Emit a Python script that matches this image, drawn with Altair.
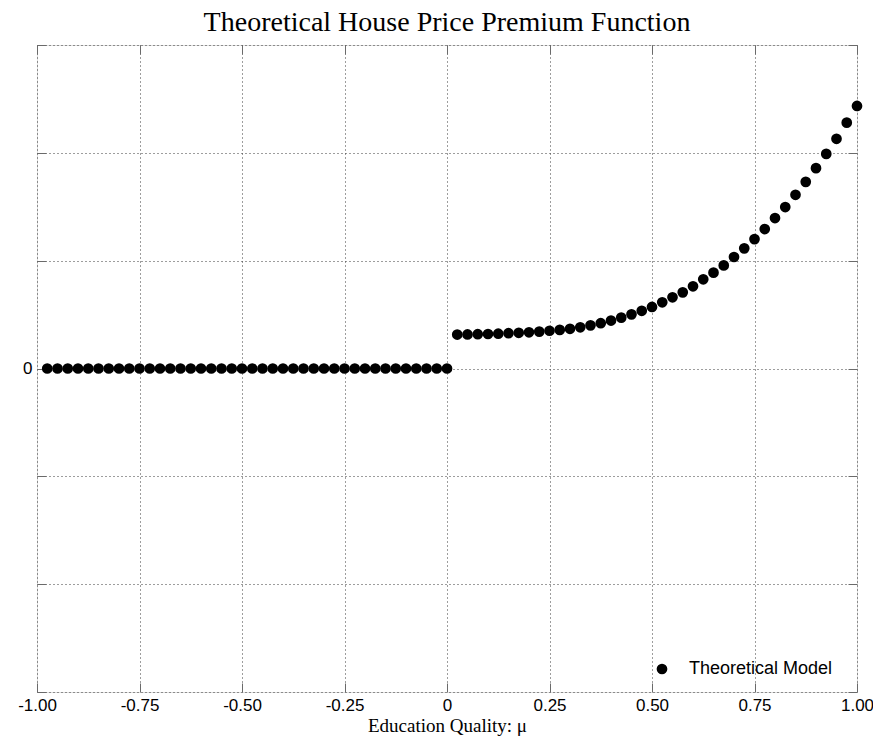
import altair as alt
import pandas as pd

# ---- data ----
x_left = [-0.975, -0.95, -0.925, -0.9, -0.875, -0.85, -0.825, -0.8, -0.775, -0.75,
          -0.725, -0.7, -0.675, -0.65, -0.625, -0.6, -0.575, -0.55, -0.525, -0.5,
          -0.475, -0.45, -0.425, -0.4, -0.375, -0.35, -0.325, -0.3, -0.275, -0.25,
          -0.225, -0.2, -0.175, -0.15, -0.125, -0.1, -0.075, -0.05, -0.025, 0.0]
y_left = [0.0, 0.0, 0.0, 0.0, 0.0, 0.0, 0.0, 0.0, 0.0, 0.0,
          0.0, 0.0, 0.0, 0.0, 0.0, 0.0, 0.0, 0.0, 0.0, 0.0,
          0.0, 0.0, 0.0, 0.0, 0.0, 0.0, 0.0, 0.0, 0.0, 0.0,
          0.0, 0.0, 0.0, 0.0, 0.0, 0.0, 0.0, 0.0, 0.0, 0.0]
x_right = [0.025, 0.05, 0.075, 0.1, 0.125, 0.15, 0.175, 0.2, 0.225, 0.25,
           0.275, 0.3, 0.325, 0.35, 0.375, 0.4, 0.425, 0.45, 0.475, 0.5,
           0.525, 0.55, 0.575, 0.6, 0.625, 0.65, 0.675, 0.7, 0.725, 0.75,
           0.775, 0.8, 0.825, 0.85, 0.875, 0.9, 0.925, 0.95, 0.975, 1.0]
y_right = [0.315, 0.316, 0.318, 0.320, 0.323, 0.327, 0.331, 0.336, 0.342, 0.350,
           0.358, 0.368, 0.382, 0.400, 0.420, 0.445, 0.472, 0.502, 0.535, 0.571,
           0.614, 0.660, 0.706, 0.762, 0.827, 0.889, 0.956, 1.034, 1.114, 1.200,
           1.293, 1.395, 1.497, 1.611, 1.731, 1.858, 1.990, 2.130, 2.280, 2.435]
series_name = "Theoretical Model"
x_ticks = [-1.0, -0.75, -0.5, -0.25, 0.0, 0.25, 0.5, 0.75, 1.0]
y_ticks = [-3, -2, -1, 0, 1, 2, 3]

df = pd.DataFrame({
    "mu": x_left + x_right,
    "premium": y_left + y_right,
    "series": [series_name] * (len(x_left) + len(x_right)),
})

FRAME = "#6a6a6a"
GRID = "#3a3a3a"
TICK = 9
DOT = 115

xscale = alt.Scale(domain=[-1, 1], nice=False, zero=False)
yscale = alt.Scale(domain=[-3, 3], nice=False, zero=False)

x_label_expr = ("datum.value == 0 ? '0' : (datum.value < 0 ? '-' : '') + "
                "format(abs(datum.value), '.2f')")

base = alt.Chart(df)

points = base.mark_point(filled=True, shape="circle", size=DOT, opacity=1).encode(
    x=alt.X("mu:Q", scale=xscale,
            axis=alt.Axis(values=x_ticks, orient="bottom", offset=-TICK, tickSize=TICK,
                          tickColor=FRAME, domain=False, grid=True, gridDash=[1, 3],
                          gridColor=GRID, gridOpacity=1, labelExpr=x_label_expr,
                          labelFont="Liberation Sans", labelFontSize=17, labelColor="black",
                          labelPadding=5, labelFlush=False, labelOverlap=False,
                          title="Education Quality: μ", titleFont="Liberation Serif",
                          titleFontSize=19, titleFontWeight="normal", titleColor="black",
                          titlePadding=3)),
    y=alt.Y("premium:Q", scale=yscale,
            axis=alt.Axis(values=y_ticks, orient="left", offset=-TICK, tickSize=TICK,
                          tickColor=FRAME, domain=False, grid=True, gridDash=[1, 3],
                          gridColor=GRID, gridOpacity=1,
                          labelExpr="datum.value == 0 ? '0' : ''",
                          labelFont="Liberation Sans", labelFontSize=17, labelColor="black",
                          labelPadding=5, title=None)),
    color=alt.Color("series:N", scale=alt.Scale(range=["black"]),
                    legend=alt.Legend(title=None, orient="none", legendX=616, legendY=615,
                                      padding=0, symbolType="circle", symbolSize=DOT,
                                      symbolStrokeWidth=0, labelOffset=18,
                                      labelFont="Liberation Sans", labelFontSize=18,
                                      labelColor="black")),
)

frame_axes = base.mark_point(opacity=0).encode(
    x=alt.X("mu:Q", scale=xscale,
            axis=alt.Axis(values=x_ticks, orient="top", offset=-TICK, tickSize=TICK,
                          tickColor=FRAME, domain=False, grid=False, labels=False,
                          title=None)),
    y=alt.Y("premium:Q", scale=yscale,
            axis=alt.Axis(values=y_ticks, orient="right", offset=-TICK, tickSize=TICK,
                          tickColor=FRAME, domain=False, grid=False, labels=False,
                          title=None)),
)

chart = alt.layer(points, frame_axes).resolve_axis(
    x="independent", y="independent"
).properties(
    width=820,
    height=647,
    title=alt.TitleParams("Theoretical House Price Premium Function",
                          font="Liberation Serif", fontSize=28, fontWeight="normal",
                          color="black", anchor="middle", offset=8),
    autosize=alt.AutoSizeParams(type="none"),
    padding={"left": 29, "top": 37, "right": 16, "bottom": 46},
).configure_view(stroke=FRAME, strokeWidth=1).configure(background="white")

chart.save("out.html", embed_options={"renderer": "svg", "actions": False})
